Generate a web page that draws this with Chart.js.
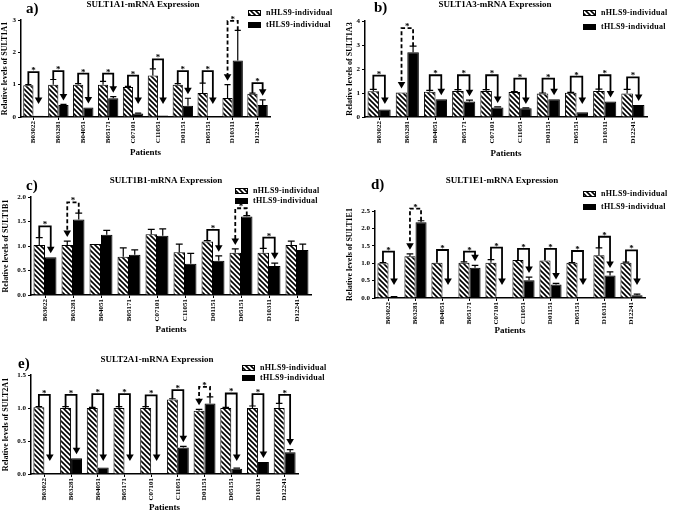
<!DOCTYPE html>
<html>
<head>
<meta charset="utf-8">
<script src="https://cdn.jsdelivr.net/npm/chart.js@4/dist/chart.umd.min.js"></script>
<style>
  html, body { margin: 0; padding: 0; background: #fff; }
  #wrap { position: relative; width: 675px; height: 513px; overflow: hidden; }
  #wrap canvas { position: absolute; left: 0; top: 0; }
</style>
</head>
<body>
<div id="wrap">
  <canvas id="pa" width="675" height="513"></canvas>
  <canvas id="pb" width="675" height="513"></canvas>
  <canvas id="pc" width="675" height="513"></canvas>
  <canvas id="pd" width="675" height="513"></canvas>
  <canvas id="pe" width="675" height="513"></canvas>
</div>
<script>
const patients = ['B03022', 'B03281', 'B04051', 'B05171', 'C07101', 'C11051', 'D01151', 'D05151', 'D10311', 'D12241'];
const seriesNames = ['nHLS9-individual', 'tHLS9-individual'];

// a) SULT1A1
const a_n     = [0.98, 1.00, 1.00, 1.00, 0.93, 1.28, 1.00, 0.74, 0.59, 0.72];
const a_nSd   = [0.02, 0.16, 0.03, 0.10, 0.02, 0.21, 0.03, 0.31, 0.41, 0.02];
const a_t     = [0.04, 0.37, 0.29, 0.58, 0.11, 0.05, 0.35, 0.02, 1.75, 0.37];
const a_tSd   = [0.00, 0.02, 0.00, 0.05, 0.01, 0.00, 0.23, 0.00, 0.93, 0.16];
const a_sig   = [1.39, 1.42, 1.34, 1.34, 1.28, 1.78, 1.42, 1.42, 2.97, 1.05];
const a_ticks = [0, 1, 2, 3];

// b) SULT1A3
const b_n     = [1.07, 1.02, 1.05, 1.08, 1.08, 1.04, 0.98, 1.01, 1.08, 0.98];
const b_nSd   = [0.08, 0.00, 0.06, 0.06, 0.06, 0.02, 0.02, 0.02, 0.08, 0.17];
const b_t     = [0.31, 2.70, 0.74, 0.65, 0.40, 0.36, 0.74, 0.20, 0.65, 0.50];
const b_tSd   = [0.00, 0.25, 0.00, 0.05, 0.02, 0.02, 0.00, 0.00, 0.00, 0.00];
const b_sig   = [1.72, 3.70, 1.74, 1.74, 1.74, 1.60, 1.60, 1.68, 1.74, 1.65];
const b_ticks = [0, 1, 2, 3, 4];

// c) SULT1B1
const c_n     = [1.02, 1.02, 1.04, 0.78, 1.24, 0.87, 1.09, 0.86, 0.86, 1.02];
const c_nSd   = [0.15, 0.08, 0.00, 0.18, 0.10, 0.17, 0.02, 0.08, 0.09, 0.08];
const c_t     = [0.77, 1.54, 1.23, 0.82, 1.21, 0.64, 0.70, 1.60, 0.59, 0.92];
const c_tSd   = [0.00, 0.13, 0.09, 0.10, 0.14, 0.21, 0.10, 0.02, 0.06, 0.12];
const c_sig   = [1.40, 1.89, null, null, null, null, 1.33, 1.77, 1.17, null];
const c_ticks = [0, 0.5, 1.0, 1.5, 2.0];

// d) SULT1E1
const d_n     = [1.00, 1.20, 1.01, 1.01, 1.01, 1.09, 1.08, 1.01, 1.23, 1.01];
const d_nSd   = [0.02, 0.07, 0.00, 0.03, 0.09, 0.00, 0.00, 0.01, 0.21, 0.02];
const d_t     = [0.03, 2.18, 0.01, 0.87, 0.01, 0.51, 0.39, 0.005, 0.65, 0.08];
const d_tSd   = [0.01, 0.04, 0.00, 0.07, 0.00, 0.09, 0.03, 0.00, 0.10, 0.03];
const d_sig   = [1.33, 2.57, 1.38, 1.33, 1.45, 1.41, 1.41, 1.35, 1.76, 1.37];
const d_ticks = [0, 0.5, 1.0, 1.5, 2.0, 2.5];

// e) SULT2A1
const e_n     = [1.01, 1.00, 1.00, 1.00, 1.00, 1.13, 0.96, 1.00, 1.00, 1.00];
const e_nSd   = [0.01, 0.02, 0.01, 0.02, 0.02, 0.01, 0.02, 0.01, 0.03, 0.07];
const e_t     = [0.01, 0.24, 0.10, 0.005, 0.005, 0.40, 1.07, 0.08, 0.18, 0.33];
const e_tSd   = [0.00, 0.00, 0.00, 0.00, 0.00, 0.02, 0.10, 0.01, 0.00, 0.04];
const e_sig   = [1.20, 1.20, 1.21, 1.21, 1.19, 1.27, 1.32, 1.22, 1.21, 1.20];
const e_ticks = [0, 0.5, 1.0, 1.5];

const SERIF = '"Liberation Serif", "Times New Roman", serif';

function makeHatch() {
    const c = document.createElement('canvas');
    c.width = 5; c.height = 5;
    const g = c.getContext('2d');
    g.fillStyle = '#fff';
    g.fillRect(0, 0, 5, 5);
    g.strokeStyle = '#000';
    g.lineWidth = 1.6;
    g.beginPath();
    g.moveTo(-1, -1); g.lineTo(6, 6);
    g.moveTo(-1, 4); g.lineTo(1, 6);
    g.moveTo(4, -1); g.lineTo(6, 1);
    g.stroke();
    return g.createPattern(c, 'repeat');
}
const hatch = makeHatch();

// error whiskers, significance brackets, title, panel letter and legend
function decoPlugin(p) {
    return {
        id: 'deco',
        afterDatasetsDraw(chart) {
            const g = chart.ctx, yS = chart.scales.y, area = chart.chartArea;
            const mn = chart.getDatasetMeta(0).data, mt = chart.getDatasetMeta(1).data;
            g.save();
            g.strokeStyle = '#000';
            g.fillStyle = '#000';
            g.lineWidth = 1.2;
            [[mn, p.n, p.nSd], [mt, p.t, p.tSd]].forEach(([bars, vals, sds]) => {
                bars.forEach((bar, j) => {
                    if (!sds[j]) return;
                    const y1 = yS.getPixelForValue(vals[j] + sds[j]);
                    const half = bar.width * 0.3;
                    g.beginPath();
                    g.moveTo(bar.x, bar.y); g.lineTo(bar.x, y1);
                    g.moveTo(bar.x - half, y1); g.lineTo(bar.x + half, y1);
                    g.stroke();
                });
            });

            p.sig.forEach((lvl, j) => {
                if (lvl == null) return;
                const xn = mn[j].x, xt = mt[j].x;
                const topN = yS.getPixelForValue(p.n[j] + p.nSd[j]);
                const topT = yS.getPixelForValue(p.t[j] + p.tSd[j]);
                const yb = yS.getPixelForValue(lvl);
                const up = p.t[j] > p.n[j];
                const ax = up ? xn : xt, px = up ? xt : xn;
                const aTop = up ? topN : topT, pTop = up ? topT : topN;
                const tip = Math.min(aTop - 4, area.bottom - 13);
                g.lineWidth = 1.8;
                g.setLineDash(up ? [4, 2.5] : []);
                g.beginPath();
                g.moveTo(px, pTop);
                g.lineTo(px, yb);
                g.lineTo(ax, yb);
                g.lineTo(ax, tip - 5);
                g.stroke();
                g.setLineDash([]);
                g.beginPath();
                g.moveTo(ax - 3.8, tip - 6.5);
                g.lineTo(ax + 3.8, tip - 6.5);
                g.lineTo(ax, tip);
                g.closePath();
                g.fill();
                g.font = 'bold 9px ' + SERIF;
                g.textAlign = 'center';
                g.textBaseline = 'alphabetic';
                g.fillText('*', (xn + xt) / 2, yb + 1);
            });
            g.restore();
        },
        afterDraw(chart) {
            const g = chart.ctx;
            g.save();
            g.fillStyle = '#000';
            g.textBaseline = 'middle';
            g.font = 'bold 15px ' + SERIF;
            g.textAlign = 'left';
            g.fillText(p.letter, p.letterX, p.letterY);
            g.font = 'bold 9px ' + SERIF;
            g.textAlign = 'center';
            g.fillText(p.title, p.titleX, p.titleY);

            g.font = 'bold 8px ' + SERIF;
            g.textAlign = 'left';
            g.letterSpacing = '0.3px';
            [p.legY1, p.legY2].forEach((y, i) => {
                g.fillStyle = i === 0 ? hatch : '#000';
                g.fillRect(p.legX, y - 3, 13, 6);
                g.strokeStyle = '#000';
                g.lineWidth = 1;
                g.strokeRect(p.legX + 0.5, y - 2.5, 12, 5);
                g.fillStyle = '#000';
                g.fillText(seriesNames[i], p.legX + 18, y);
            });
            g.restore();
        }
    };
}

function makePanel(id, p) {
    const axisFont = { family: SERIF, size: 7, weight: 'bold' };
    return new Chart(document.getElementById(id), {
        type: 'bar',
        data: {
            labels: patients,
            datasets: [
                { label: seriesNames[0], data: p.n, backgroundColor: hatch, borderColor: '#000', borderWidth: 1 },
                { label: seriesNames[1], data: p.t, backgroundColor: '#000', borderColor: '#000', borderWidth: 1 }
            ]
        },
        options: {
            responsive: false,
            animation: false,
            devicePixelRatio: 1,
            events: [],
            layout: { padding: { left: p.padL, top: p.top, right: 675 - p.right, bottom: 513 - p.xEnd } },
            datasets: { bar: { categoryPercentage: 0.82, barPercentage: 1 } },
            scales: {
                x: {
                    grid: { display: true, drawOnChartArea: false, offset: false, color: '#000', tickLength: 3 },
                    border: { color: '#000', width: 1.5 },
                    ticks: { color: '#000', font: axisFont, minRotation: 90, maxRotation: 90, padding: 1, autoSkip: false },
                    title: { display: true, text: 'Patients', color: '#000', padding: 0,
                             font: { family: SERIF, size: 9, weight: 'bold' } },
                    afterFit: s => { s.height = p.xEnd - p.bottom; }
                },
                y: {
                    min: 0,
                    max: p.ticks[p.ticks.length - 1],
                    afterBuildTicks: s => { s.ticks = p.ticks.map(v => ({ value: v })); },
                    grid: { drawOnChartArea: false, color: '#000', tickLength: 3 },
                    border: { color: '#000', width: 1.5 },
                    ticks: { color: '#000', font: axisFont, padding: 2,
                             callback: v => p.dec ? v.toFixed(1) : v },
                    title: { display: true, text: 'Relative levels of ' + p.gene, color: '#000', padding: 0,
                             font: { family: SERIF, size: 8, weight: 'bold' } },
                    afterFit: s => { s.width = p.left - p.padL; }
                }
            },
            plugins: { legend: { display: false }, tooltip: { enabled: false } }
        },
        plugins: [decoPlugin(p)]
    });
}

makePanel('pa', { n: a_n, nSd: a_nSd, t: a_t, tSd: a_tSd, sig: a_sig, ticks: a_ticks, dec: false,
    gene: 'SULT1A1', title: 'SULT1A1-mRNA Expression', letter: 'a)',
    padL: 0, left: 21, top: 20, right: 270, bottom: 117, xEnd: 158,
    letterX: 26, letterY: 9, titleX: 143, titleY: 5, legX: 248, legY1: 13, legY2: 25 });

makePanel('pb', { n: b_n, nSd: b_nSd, t: b_t, tSd: b_tSd, sig: b_sig, ticks: b_ticks, dec: false,
    gene: 'SULT1A3', title: 'SULT1A3-mRNA Expression', letter: 'b)',
    padL: 345, left: 365, top: 21, right: 647, bottom: 117, xEnd: 159,
    letterX: 374, letterY: 8, titleX: 495, titleY: 5, legX: 583, legY1: 13, legY2: 27 });

makePanel('pc', { n: c_n, nSd: c_nSd, t: c_t, tSd: c_tSd, sig: c_sig, ticks: c_ticks, dec: true,
    gene: 'SULT1B1', title: 'SULT1B1-mRNA Expression', letter: 'c)',
    padL: 1, left: 31, top: 197, right: 311, bottom: 295, xEnd: 335,
    letterX: 26, letterY: 186, titleX: 166, titleY: 181, legX: 235, legY1: 191, legY2: 201 });

makePanel('pd', { n: d_n, nSd: d_nSd, t: d_t, tSd: d_tSd, sig: d_sig, ticks: d_ticks, dec: true,
    gene: 'SULT1E1', title: 'SULT1E1-mRNA Expression', letter: 'd)',
    padL: 345, left: 375, top: 211, right: 645, bottom: 298, xEnd: 336,
    letterX: 371, letterY: 185, titleX: 502, titleY: 181, legX: 583, legY1: 194, legY2: 207 });

makePanel('pe', { n: e_n, nSd: e_nSd, t: e_t, tSd: e_tSd, sig: e_sig, ticks: e_ticks, dec: true,
    gene: 'SULT2A1', title: 'SULT2A1-mRNA Expression', letter: 'e)',
    padL: 1, left: 31, top: 375, right: 298, bottom: 474, xEnd: 513,
    letterX: 18, letterY: 364, titleX: 157, titleY: 360, legX: 242, legY1: 368, legY2: 378 });
</script>
</body>
</html>
